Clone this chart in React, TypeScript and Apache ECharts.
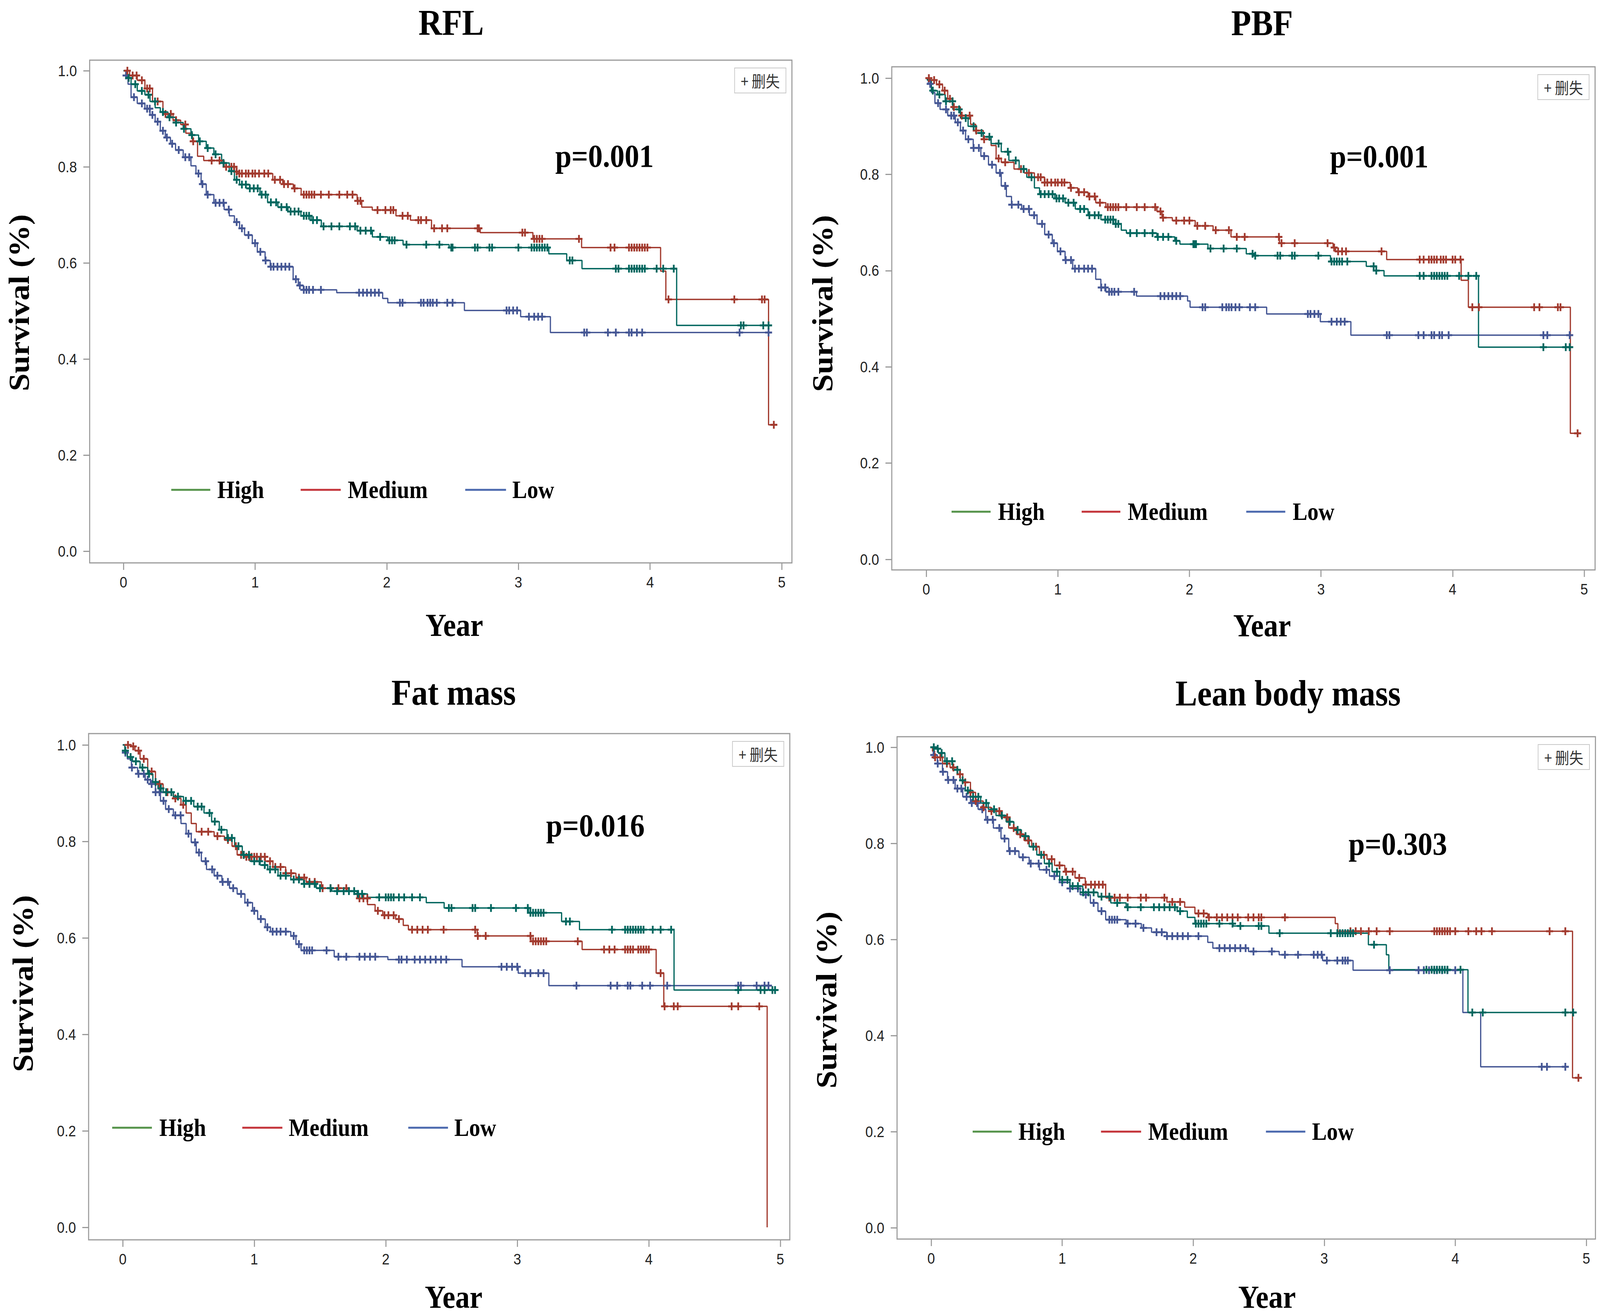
import React, { useEffect, useRef } from "react";
import * as echarts from "echarts";

// ---------- tick labels / categories ----------
const yearTicks = [0, 1, 2, 3, 4, 5];
const survTicks = [0, 0.2, 0.4, 0.6, 0.8, 1.0];
const groups = ["High", "Medium", "Low"];
const panelTitles = ["RFL", "PBF", "Fat mass", "Lean body mass"];
const pValues = ["p=0.001", "p=0.001", "p=0.016", "p=0.303"];
const censorLabel = "+ 删失";

// ---------- RFL ----------
const rflHighT = [0, 0.027, 0.058, 0.105, 0.163, 0.202, 0.241, 0.28, 0.338, 0.396, 0.454, 0.513, 0.571, 0.629, 0.687, 0.746, 0.804, 0.843, 0.882, 0.959, 1.037, 1.095, 1.173, 1.25, 1.348, 1.425, 1.503, 1.775, 1.891, 2.008, 2.124, 2.474, 3.231, 3.367, 3.483, 4.202];
const rflHighS = [1, 0.985, 0.972, 0.958, 0.95, 0.936, 0.923, 0.914, 0.903, 0.892, 0.879, 0.866, 0.853, 0.839, 0.826, 0.808, 0.791, 0.773, 0.763, 0.755, 0.742, 0.726, 0.716, 0.707, 0.698, 0.689, 0.676, 0.667, 0.654, 0.647, 0.638, 0.632, 0.619, 0.605, 0.588, 0.47];
const rflHighC = [0.04, 0.09, 0.14, 0.19, 0.24, 0.3, 0.35, 0.4, 0.46, 0.52, 0.58, 0.64, 0.7, 0.76, 0.82, 0.86, 0.9, 0.93, 0.96, 0.99, 1.02, 1.05, 1.08, 1.12, 1.16, 1.2, 1.24, 1.27, 1.3, 1.33, 1.37, 1.39, 1.41, 1.44, 1.47, 1.52, 1.58, 1.64, 1.72, 1.76, 1.8, 1.84, 1.88, 1.95, 2.02, 2.04, 2.06, 2.15, 2.3, 2.4, 2.49, 2.5, 2.67, 2.69, 2.78, 2.8, 3.0, 3.1, 3.12, 3.14, 3.16, 3.18, 3.2, 3.22, 3.39, 3.41, 3.74, 3.76, 3.84, 3.86, 3.88, 3.9, 3.92, 3.94, 3.96, 4.05, 4.1, 4.18, 4.69, 4.71, 4.86, 4.9];
const rflMedT = [0, 0.047, 0.105, 0.163, 0.221, 0.3, 0.377, 0.435, 0.474, 0.524, 0.563, 0.61, 0.765, 0.843, 0.88, 1.134, 1.21, 1.29, 1.35, 1.775, 1.81, 1.89, 2.07, 2.18, 2.34, 2.71, 3.11, 3.48, 4.08, 4.12, 4.9];
const rflMedS = [1, 0.99, 0.98, 0.963, 0.936, 0.91, 0.897, 0.888, 0.87, 0.853, 0.822, 0.813, 0.8, 0.79, 0.786, 0.773, 0.764, 0.755, 0.742, 0.729, 0.716, 0.71, 0.698, 0.689, 0.672, 0.663, 0.65, 0.632, 0.583, 0.524, 0.263];
const rflMedC = [0.03, 0.07, 0.1, 0.14, 0.18, 0.2, 0.26, 0.32, 0.36, 0.4, 0.47, 0.53, 0.67, 0.73, 0.78, 0.82, 0.84, 0.86, 0.88, 0.9, 0.93, 0.95, 0.98, 1.0, 1.03, 1.07, 1.1, 1.15, 1.19, 1.22, 1.25, 1.3, 1.37, 1.39, 1.41, 1.43, 1.45, 1.5, 1.56, 1.64, 1.7, 1.74, 1.78, 1.8, 1.93, 1.99, 2.03, 2.05, 2.12, 2.16, 2.24, 2.26, 2.3, 2.36, 2.42, 2.46, 2.69, 2.7, 3.03, 3.05, 3.12, 3.14, 3.16, 3.18, 3.46, 3.7, 3.73, 3.84, 3.86, 3.88, 3.9, 3.92, 3.94, 3.96, 3.98, 4.14, 4.64, 4.85, 4.87, 4.94];
const rflLowT = [0, 0.019, 0.035, 0.058, 0.105, 0.163, 0.202, 0.241, 0.28, 0.318, 0.357, 0.396, 0.454, 0.513, 0.551, 0.59, 0.629, 0.687, 0.765, 0.804, 0.843, 0.882, 0.92, 0.979, 1.017, 1.076, 1.115, 1.289, 1.328, 1.367, 1.62, 1.969, 2.008, 2.59, 3.017, 3.243];
const rflLowS = [1, 0.99, 0.972, 0.945, 0.932, 0.921, 0.908, 0.894, 0.875, 0.861, 0.848, 0.835, 0.82, 0.802, 0.786, 0.764, 0.742, 0.725, 0.711, 0.698, 0.685, 0.672, 0.658, 0.641, 0.623, 0.605, 0.592, 0.566, 0.553, 0.544, 0.538, 0.526, 0.517, 0.501, 0.488, 0.455];
const rflLowC = [0.02, 0.08, 0.14, 0.18, 0.2, 0.22, 0.26, 0.3, 0.33, 0.37, 0.42, 0.47, 0.5, 0.57, 0.6, 0.64, 0.7, 0.73, 0.76, 0.8, 0.86, 0.9, 0.95, 1.0, 1.04, 1.08, 1.12, 1.14, 1.17, 1.2, 1.23, 1.26, 1.31, 1.34, 1.37, 1.39, 1.41, 1.44, 1.5, 1.79, 1.82, 1.85, 1.88, 1.91, 1.94, 2.1, 2.12, 2.26, 2.28, 2.31, 2.33, 2.35, 2.38, 2.46, 2.5, 2.91, 2.93, 2.96, 2.99, 3.08, 3.12, 3.15, 3.18, 3.5, 3.52, 3.68, 3.74, 3.84, 3.86, 3.9, 3.94, 4.68, 4.9];

// ---------- PBF ----------
const pbfHighT = [0, 0.008, 0.039, 0.085, 0.144, 0.202, 0.26, 0.318, 0.376, 0.434, 0.493, 0.57, 0.628, 0.706, 0.764, 0.822, 0.861, 0.977, 1.055, 1.133, 1.23, 1.327, 1.424, 1.482, 1.521, 1.753, 1.889, 1.928, 2.141, 2.432, 2.49, 3.072, 3.344, 3.402, 3.479, 4.197];
const pbfHighS = [1, 0.996, 0.974, 0.966, 0.952, 0.935, 0.917, 0.9, 0.886, 0.878, 0.864, 0.847, 0.829, 0.811, 0.794, 0.772, 0.759, 0.75, 0.741, 0.728, 0.715, 0.706, 0.697, 0.684, 0.678, 0.67, 0.662, 0.655, 0.646, 0.635, 0.631, 0.619, 0.609, 0.6, 0.589, 0.441];
const pbfHighC = [0.05, 0.1, 0.15, 0.2, 0.25, 0.3, 0.36, 0.42, 0.48, 0.55, 0.62, 0.68, 0.74, 0.8, 0.87, 0.9, 0.93, 0.96, 0.99, 1.01, 1.04, 1.08, 1.12, 1.17, 1.2, 1.24, 1.28, 1.31, 1.36, 1.38, 1.4, 1.42, 1.44, 1.46, 1.55, 1.6, 1.66, 1.72, 1.76, 1.8, 1.84, 1.9, 2.03, 2.04, 2.05, 2.16, 2.26, 2.36, 2.48, 2.5, 2.67, 2.69, 2.78, 2.8, 2.98, 3.08, 3.1, 3.12, 3.14, 3.16, 3.2, 3.4, 3.42, 3.75, 3.78, 3.84, 3.86, 3.88, 3.9, 3.92, 3.94, 3.96, 4.05, 4.12, 4.18, 4.69, 4.86, 4.89];
const pbfMedT = [0, 0.027, 0.078, 0.124, 0.163, 0.202, 0.26, 0.337, 0.376, 0.434, 0.493, 0.531, 0.57, 0.667, 0.745, 0.822, 0.9, 1.094, 1.152, 1.23, 1.288, 1.365, 1.753, 1.792, 1.87, 2.044, 2.18, 2.316, 2.684, 3.092, 3.111, 3.499, 4.065, 4.12, 4.895];
const pbfMedS = [1, 0.996, 0.987, 0.974, 0.957, 0.94, 0.922, 0.904, 0.891, 0.873, 0.86, 0.833, 0.825, 0.811, 0.803, 0.794, 0.783, 0.772, 0.763, 0.754, 0.741, 0.732, 0.723, 0.71, 0.704, 0.693, 0.684, 0.67, 0.657, 0.648, 0.64, 0.623, 0.58, 0.524, 0.262];
const pbfMedC = [0.02, 0.06, 0.1, 0.14, 0.18, 0.21, 0.27, 0.33, 0.38, 0.44, 0.55, 0.6, 0.72, 0.78, 0.85, 0.87, 0.9, 0.92, 0.95, 0.98, 1.0, 1.03, 1.05, 1.1, 1.16, 1.2, 1.24, 1.28, 1.32, 1.38, 1.4, 1.42, 1.44, 1.46, 1.52, 1.6, 1.66, 1.74, 1.78, 1.8, 1.9, 1.96, 2.0, 2.06, 2.12, 2.2, 2.3, 2.36, 2.42, 2.68, 2.7, 2.8, 3.05, 3.1, 3.13, 3.16, 3.19, 3.46, 3.75, 3.78, 3.82, 3.84, 3.86, 3.88, 3.91, 3.93, 3.95, 4.0, 4.02, 4.06, 4.15, 4.2, 4.62, 4.66, 4.8, 4.82, 4.95];
const pbfLowT = [0, 0.016, 0.039, 0.066, 0.105, 0.163, 0.221, 0.26, 0.299, 0.357, 0.415, 0.473, 0.531, 0.57, 0.609, 0.648, 0.725, 0.784, 0.842, 0.9, 0.958, 0.997, 1.055, 1.113, 1.288, 1.327, 1.365, 1.598, 1.986, 2.005, 2.587, 2.995, 3.227];
const pbfLowS = [1, 0.988, 0.97, 0.948, 0.935, 0.922, 0.908, 0.891, 0.873, 0.855, 0.838, 0.82, 0.803, 0.776, 0.754, 0.737, 0.728, 0.715, 0.697, 0.675, 0.657, 0.64, 0.622, 0.604, 0.582, 0.565, 0.556, 0.547, 0.537, 0.524, 0.51, 0.494, 0.466];
const pbfLowC = [0.03, 0.09, 0.15, 0.19, 0.21, 0.24, 0.28, 0.32, 0.36, 0.4, 0.44, 0.5, 0.56, 0.6, 0.65, 0.7, 0.74, 0.78, 0.82, 0.88, 0.93, 0.97, 1.02, 1.06, 1.1, 1.13, 1.16, 1.2, 1.23, 1.26, 1.33, 1.36, 1.39, 1.41, 1.43, 1.46, 1.58, 1.78, 1.81, 1.84, 1.87, 1.9, 1.93, 2.1, 2.12, 2.25, 2.28, 2.3, 2.32, 2.35, 2.38, 2.46, 2.5, 2.9, 2.92, 2.95, 2.98, 3.08, 3.12, 3.15, 3.18, 3.5, 3.52, 3.74, 3.78, 3.84, 3.86, 3.9, 3.92, 3.97, 4.69, 4.72, 4.89];

// ---------- Fat mass ----------
const fatHighT = [0, 0.016, 0.035, 0.074, 0.132, 0.19, 0.229, 0.268, 0.307, 0.385, 0.462, 0.54, 0.618, 0.676, 0.734, 0.793, 0.851, 0.909, 0.967, 1.045, 1.103, 1.181, 1.278, 1.375, 1.472, 1.589, 1.783, 1.861, 2.308, 2.444, 3.085, 3.337, 3.473, 4.192];
const fatHighS = [1, 0.988, 0.975, 0.966, 0.953, 0.94, 0.923, 0.91, 0.902, 0.893, 0.884, 0.872, 0.859, 0.841, 0.824, 0.807, 0.79, 0.772, 0.759, 0.751, 0.742, 0.729, 0.721, 0.712, 0.703, 0.697, 0.691, 0.684, 0.673, 0.662, 0.652, 0.634, 0.617, 0.492];
const fatHighC = [0.02, 0.06, 0.1, 0.15, 0.2, 0.25, 0.29, 0.33, 0.37, 0.42, 0.48, 0.52, 0.57, 0.6, 0.66, 0.7, 0.75, 0.8, 0.83, 0.88, 0.92, 0.96, 1.0, 1.04, 1.08, 1.12, 1.16, 1.2, 1.24, 1.3, 1.34, 1.38, 1.42, 1.46, 1.5, 1.58, 1.63, 1.68, 1.72, 1.76, 1.79, 1.82, 1.95, 2.0, 2.02, 2.04, 2.06, 2.1, 2.14, 2.2, 2.26, 2.48, 2.5, 2.66, 2.68, 2.8, 2.99, 3.08, 3.1, 3.12, 3.14, 3.16, 3.18, 3.2, 3.37, 3.4, 3.72, 3.82, 3.84, 3.86, 3.88, 3.9, 3.92, 3.94, 3.96, 4.03, 4.09, 4.17, 4.68, 4.85, 4.88, 4.94, 4.96];
const fatMedT = [0, 0.066, 0.093, 0.132, 0.19, 0.249, 0.307, 0.385, 0.443, 0.482, 0.521, 0.559, 0.695, 0.773, 0.831, 0.87, 0.929, 1.084, 1.142, 1.239, 1.317, 1.395, 1.511, 1.706, 1.783, 1.861, 1.919, 1.977, 2.075, 2.133, 2.172, 2.696, 3.104, 3.493, 4.056, 4.114, 4.9];
const fatMedS = [1, 0.997, 0.988, 0.971, 0.945, 0.919, 0.902, 0.889, 0.876, 0.859, 0.837, 0.82, 0.811, 0.803, 0.79, 0.772, 0.768, 0.759, 0.747, 0.734, 0.725, 0.716, 0.703, 0.697, 0.682, 0.669, 0.656, 0.647, 0.639, 0.626, 0.617, 0.604, 0.593, 0.576, 0.527, 0.458, 0];
const fatMedC = [0.04, 0.08, 0.12, 0.16, 0.22, 0.28, 0.34, 0.4, 0.46, 0.6, 0.65, 0.72, 0.8, 0.86, 0.9, 0.92, 0.94, 0.96, 0.98, 1.0, 1.02, 1.05, 1.08, 1.12, 1.16, 1.2, 1.24, 1.28, 1.34, 1.38, 1.42, 1.46, 1.52, 1.58, 1.64, 1.7, 1.8, 1.83, 1.86, 1.94, 1.99, 2.02, 2.06, 2.1, 2.2, 2.24, 2.28, 2.32, 2.44, 2.68, 2.7, 2.76, 3.1, 3.12, 3.14, 3.16, 3.18, 3.2, 3.22, 3.46, 3.66, 3.7, 3.74, 3.82, 3.84, 3.86, 3.88, 3.92, 3.94, 3.96, 3.98, 4.0, 4.09, 4.12, 4.19, 4.22, 4.63, 4.68, 4.84];
const fatLowT = [0, 0.016, 0.035, 0.066, 0.113, 0.171, 0.21, 0.249, 0.287, 0.326, 0.385, 0.443, 0.482, 0.521, 0.559, 0.598, 0.637, 0.695, 0.754, 0.812, 0.87, 0.929, 0.987, 1.026, 1.084, 1.123, 1.278, 1.317, 1.356, 1.608, 2.016, 2.58, 3.007, 3.24];
const fatLowS = [1, 0.984, 0.971, 0.953, 0.94, 0.928, 0.919, 0.902, 0.884, 0.867, 0.854, 0.837, 0.816, 0.798, 0.777, 0.759, 0.742, 0.729, 0.716, 0.703, 0.691, 0.673, 0.656, 0.639, 0.622, 0.613, 0.604, 0.587, 0.574, 0.561, 0.555, 0.54, 0.527, 0.501];
const fatLowC = [0.02, 0.07, 0.12, 0.16, 0.19, 0.22, 0.25, 0.28, 0.31, 0.35, 0.4, 0.44, 0.5, 0.55, 0.58, 0.63, 0.68, 0.72, 0.76, 0.8, 0.84, 0.9, 0.95, 1.0, 1.05, 1.1, 1.14, 1.17, 1.2, 1.24, 1.3, 1.34, 1.38, 1.4, 1.42, 1.44, 1.55, 1.64, 1.7, 1.8, 1.84, 1.88, 1.92, 2.1, 2.12, 2.16, 2.22, 2.26, 2.3, 2.34, 2.38, 2.42, 2.46, 2.88, 2.92, 2.96, 3.0, 3.06, 3.1, 3.16, 3.2, 3.45, 3.71, 3.76, 3.84, 3.86, 3.95, 4.01, 4.14, 4.68, 4.7, 4.82, 4.88, 4.91];

// ---------- Lean body mass ----------
const leanHighT = [0, 0.027, 0.055, 0.105, 0.164, 0.222, 0.261, 0.319, 0.378, 0.436, 0.495, 0.572, 0.631, 0.689, 0.748, 0.806, 0.864, 0.923, 0.981, 1.059, 1.157, 1.273, 1.371, 1.488, 1.877, 1.955, 2.013, 2.305, 2.578, 3.337, 3.474, 3.493, 4.097];
const leanHighS = [1, 0.997, 0.988, 0.971, 0.953, 0.931, 0.91, 0.897, 0.884, 0.871, 0.858, 0.845, 0.828, 0.815, 0.793, 0.776, 0.758, 0.741, 0.724, 0.711, 0.698, 0.689, 0.676, 0.667, 0.659, 0.646, 0.633, 0.628, 0.613, 0.589, 0.568, 0.537, 0.448];
const leanHighC = [0.02, 0.05, 0.08, 0.12, 0.16, 0.2, 0.24, 0.28, 0.32, 0.36, 0.42, 0.48, 0.54, 0.6, 0.66, 0.72, 0.78, 0.84, 0.9, 0.96, 1.0, 1.04, 1.08, 1.12, 1.16, 1.2, 1.24, 1.3, 1.36, 1.42, 1.5, 1.6, 1.7, 1.74, 1.78, 1.82, 1.86, 1.9, 2.02, 2.04, 2.06, 2.08, 2.1, 2.2, 2.3, 2.36, 2.5, 2.52, 2.66, 3.05, 3.1, 3.12, 3.14, 3.16, 3.18, 3.2, 3.22, 3.38, 3.78, 3.82, 3.84, 3.86, 3.88, 3.9, 3.92, 3.94, 4.04, 4.13, 4.21, 4.84, 4.9];
const leanMedT = [0, 0.01, 0.027, 0.086, 0.144, 0.202, 0.241, 0.3, 0.339, 0.397, 0.456, 0.533, 0.592, 0.65, 0.709, 0.767, 0.826, 0.884, 0.942, 1.02, 1.098, 1.176, 1.332, 1.799, 1.935, 2.013, 2.111, 3.084, 3.104, 4.895];
const leanMedS = [1, 0.992, 0.979, 0.966, 0.958, 0.944, 0.927, 0.906, 0.888, 0.875, 0.867, 0.854, 0.832, 0.819, 0.806, 0.793, 0.776, 0.767, 0.754, 0.741, 0.728, 0.714, 0.687, 0.678, 0.667, 0.654, 0.646, 0.633, 0.617, 0.312];
const leanMedC = [0.03, 0.07, 0.12, 0.17, 0.22, 0.26, 0.3, 0.34, 0.4, 0.46, 0.52, 0.58, 0.63, 0.68, 0.74, 0.8, 0.86, 0.92, 0.98, 1.03, 1.08, 1.13, 1.18, 1.22, 1.25, 1.28, 1.31, 1.36, 1.4, 1.44, 1.5, 1.6, 1.64, 1.78, 1.84, 1.9, 2.04, 2.08, 2.12, 2.18, 2.22, 2.26, 2.3, 2.34, 2.42, 2.46, 2.5, 2.52, 2.7, 3.2, 3.24, 3.28, 3.34, 3.4, 3.5, 3.84, 3.86, 3.88, 3.9, 3.92, 3.94, 3.96, 4.0, 4.1, 4.16, 4.2, 4.28, 4.72, 4.84, 4.94];
const leanLowT = [0, 0.016, 0.047, 0.086, 0.125, 0.183, 0.241, 0.3, 0.358, 0.417, 0.475, 0.533, 0.592, 0.67, 0.748, 0.826, 0.903, 0.981, 1.059, 1.137, 1.215, 1.273, 1.332, 1.488, 1.604, 1.682, 1.799, 2.111, 2.15, 2.422, 2.656, 2.987, 3.22, 4.058, 4.194];
const leanLowS = [1, 0.984, 0.966, 0.949, 0.932, 0.914, 0.897, 0.884, 0.871, 0.849, 0.832, 0.81, 0.784, 0.771, 0.758, 0.745, 0.732, 0.719, 0.706, 0.693, 0.676, 0.659, 0.641, 0.633, 0.624, 0.615, 0.607, 0.594, 0.582, 0.575, 0.568, 0.556, 0.536, 0.448, 0.335];
const leanLowC = [0.02, 0.05, 0.09, 0.13, 0.17, 0.2, 0.23, 0.27, 0.31, 0.35, 0.39, 0.43, 0.47, 0.52, 0.56, 0.6, 0.64, 0.7, 0.76, 0.82, 0.88, 0.94, 1.0, 1.06, 1.12, 1.18, 1.24, 1.3, 1.36, 1.38, 1.4, 1.42, 1.5, 1.56, 1.62, 1.72, 1.76, 1.8, 1.84, 1.88, 1.92, 1.96, 2.04, 2.2, 2.24, 2.28, 2.32, 2.36, 2.4, 2.46, 2.6, 2.7, 2.8, 2.92, 2.95, 2.98, 3.02, 3.1, 3.14, 3.16, 3.18, 3.5, 3.72, 3.76, 3.8, 3.84, 3.86, 3.9, 3.94, 4.0, 4.66, 4.7, 4.84];

const panelCurves = [
  [[rflHighT, rflHighS, rflHighC], [rflMedT, rflMedS, rflMedC], [rflLowT, rflLowS, rflLowC]],
  [[pbfHighT, pbfHighS, pbfHighC], [pbfMedT, pbfMedS, pbfMedC], [pbfLowT, pbfLowS, pbfLowC]],
  [[fatHighT, fatHighS, fatHighC], [fatMedT, fatMedS, fatMedC], [fatLowT, fatLowS, fatLowC]],
  [[leanHighT, leanHighS, leanHighC], [leanMedT, leanMedS, leanMedC], [leanLowT, leanLowS, leanLowC]],
];

// ---------- styling / layout ----------
const W = 4550, H = 3369;
const curveColors = ["#01665E", "#A23A2E", "#445694"];
const legendColors = ["#55934A", "#C4343A", "#4B69AE"];
const SERIF = "'Liberation Serif', 'Times New Roman', serif";
const SANS = "'Liberation Sans', Arial, sans-serif";
const CJK = "'Noto Sans CJK SC', sans-serif";
const FRAME = "#9a9a9a";

// frame rect [left, top, right, bottom] and tick anchors [x0px, x5px, y1px, y0px]
const layout = [
  { frame: [255, 154, 2252, 1441], anchors: [351, 2223, 181, 1411], title: [1283, 57], year: [1292, 1600], surv: [54, 775], p: [1579, 399], legY: 1254, legLines: [[487, 598], [855, 969], [1323, 1439]], legText: [618, 989, 1457] },
  { frame: [2536, 171, 4536, 1459], anchors: [2634, 4505, 200, 1432], title: [3589, 58], year: [3589, 1601], surv: [2339, 777], p: [3782, 400], legY: 1310, legLines: [[2706, 2817], [3076, 3186], [3544, 3655]], legText: [2838, 3207, 3676] },
  { frame: [252, 1878, 2246, 3174], anchors: [349, 2219, 1907, 3142], title: [1290, 1772], year: [1290, 3320], surv: [66, 2518], p: [1553, 2113], legY: 2887, legLines: [[319, 432], [689, 803], [1161, 1274]], legText: [453, 821, 1292] },
  { frame: [2551, 1886, 4537, 3172], anchors: [2648, 4511, 1913, 3143], title: [3663, 1774], year: [3603, 3320], surv: [2350, 2560], p: [3835, 2160], legY: 2897, legLines: [[2766, 2877], [3131, 3245], [3600, 3712]], legText: [2896, 3265, 3731] },
];

const PLUS = "path://M7.5,0h5v7.5h7.5v5h-7.5v7.5h-5v-7.5h-7.5v-5h7.5z";

function stepLine(T: number[], S: number[], C: number[]) {
  const pts = T.map((t, i) => [t, S[i]]);
  const lastT = T[T.length - 1];
  const end = Math.max(lastT, ...C);
  if (end > lastT) pts.push([end, S[S.length - 1]]);
  return pts;
}
function censorPts(T: number[], S: number[], C: number[]) {
  return C.map((c) => {
    let s = S[0];
    for (let i = 0; i < T.length; i++) if (T[i] <= c) s = S[i];
    return [c, s];
  });
}

function buildOption() {
  const grid: any[] = [];
  const xAxis: any[] = [];
  const yAxis: any[] = [];
  const series: any[] = [];
  const graphic: any[] = [];

  layout.forEach((L, pi) => {
    const [l, t, r, b] = L.frame;
    const [x0, x5, y1, y0] = L.anchors;
    const pxYear = (x5 - x0) / 5;
    const pyUnit = y0 - y1;
    grid.push({ left: l, top: t, width: r - l, height: b - t, show: true, borderColor: FRAME, borderWidth: 3, backgroundColor: "transparent", containLabel: false });
    xAxis.push({
      type: "value", gridIndex: pi, position: "bottom",
      min: -(x0 - l) / pxYear, max: 5 + (r - x5) / pxYear,
      axisLine: { show: false, onZero: false },
      axisTick: { show: true, inside: false, length: 18, lineStyle: { color: FRAME, width: 3 }, customValues: yearTicks },
      axisLabel: { show: true, customValues: yearTicks, margin: 30, fontFamily: SANS, fontSize: 39, color: "#222", formatter: (v: number) => String(Math.round(v)) },
      splitLine: { show: false },
    });
    yAxis.push({
      type: "value", gridIndex: pi, position: "left",
      min: -(b - y0) / pyUnit, max: 1 + (y1 - t) / pyUnit,
      axisLine: { show: false, onZero: false },
      axisTick: { show: true, inside: false, length: 18, lineStyle: { color: FRAME, width: 3 }, customValues: survTicks },
      axisLabel: { show: true, customValues: survTicks, margin: 36, fontFamily: SANS, fontSize: 39, color: "#222", formatter: (v: number) => v.toFixed(1) },
      splitLine: { show: false },
    });

    [2, 1, 0].forEach((gi) => {
      const [T, S, C] = panelCurves[pi][gi] as number[][];
      series.push({
        type: "line", name: groups[gi], xAxisIndex: pi, yAxisIndex: pi,
        step: "end", data: stepLine(T, S, C), showSymbol: false, symbol: "none",
        lineStyle: { color: curveColors[gi], width: 3.5 }, silent: true, z: 3,
      });
      series.push({
        type: "scatter", name: groups[gi] + " censored", xAxisIndex: pi, yAxisIndex: pi,
        data: censorPts(T, S, C), symbol: PLUS, symbolSize: 20,
        itemStyle: { color: curveColors[gi], opacity: 1 }, silent: true, z: 4,
      });
    });

    graphic.push({ type: "text", x: L.title[0], y: L.title[1], style: { text: panelTitles[pi], font: `bold 93px ${SERIF}`, fill: "#000", textAlign: "center", textVerticalAlign: "middle" } });
    graphic.push({ type: "text", x: L.year[0], y: L.year[1], style: { text: "Year", font: `bold 82px ${SERIF}`, fill: "#000", textAlign: "center", textVerticalAlign: "middle" } });
    graphic.push({ type: "text", x: L.surv[0], y: L.surv[1], rotation: Math.PI / 2, style: { text: "Survival (%)", font: `bold 82px ${SERIF}`, fill: "#000", textAlign: "center", textVerticalAlign: "middle" } });
    graphic.push({ type: "text", x: L.p[0], y: L.p[1], style: { text: pValues[pi], font: `bold 83px ${SERIF}`, fill: "#000", textAlign: "left", textVerticalAlign: "middle" } });
    groups.forEach((g, gi) => {
      const [a, c] = L.legLines[gi];
      graphic.push({ type: "line", shape: { x1: a, y1: L.legY, x2: c, y2: L.legY }, style: { stroke: legendColors[gi], lineWidth: 5 } });
      graphic.push({ type: "text", x: L.legText[gi], y: L.legY, style: { text: g, font: `bold 63px ${SERIF}`, fill: "#000", textAlign: "left", textVerticalAlign: "middle" } });
    });
    const bw = 146, bh = 64;
    const bx = r - 17 - bw, by = t + 20;
    graphic.push({ type: "rect", shape: { x: bx, y: by, width: bw, height: bh }, style: { fill: "#fff", stroke: "#c8c8c8", lineWidth: 2 } });
    graphic.push({ type: "text", x: bx + bw / 2, y: by + bh / 2, style: { text: censorLabel, font: `40px ${CJK}`, fill: "#333", textAlign: "center", textVerticalAlign: "middle" } });
  });

  return { animation: false, backgroundColor: "#fff", grid, xAxis, yAxis, series, graphic };
}

export default function App() {
  const ref = useRef<HTMLDivElement>(null);
  const vw = typeof window !== "undefined" ? window.innerWidth : W;
  const vh = typeof window !== "undefined" ? window.innerHeight : H;
  // the page may be narrower than the design size: stretch the design to fill the viewport
  const kx = Math.min(1, vw / W);
  const ky = Math.min(1, vh / H);
  useEffect(() => {
    if (!ref.current) return;
    const chart = echarts.init(ref.current, null, { renderer: "svg", width: W, height: H });
    chart.setOption(buildOption() as any);
    return () => chart.dispose();
  }, []);
  return (
    <div style={{ position: "fixed", left: 0, top: 0, width: W * kx, height: H * ky, overflow: "hidden", background: "#fff" }}>
      <div ref={ref} style={{ width: W, height: H, transform: `scale(${kx}, ${ky})`, transformOrigin: "0 0" }} />
    </div>
  );
}
